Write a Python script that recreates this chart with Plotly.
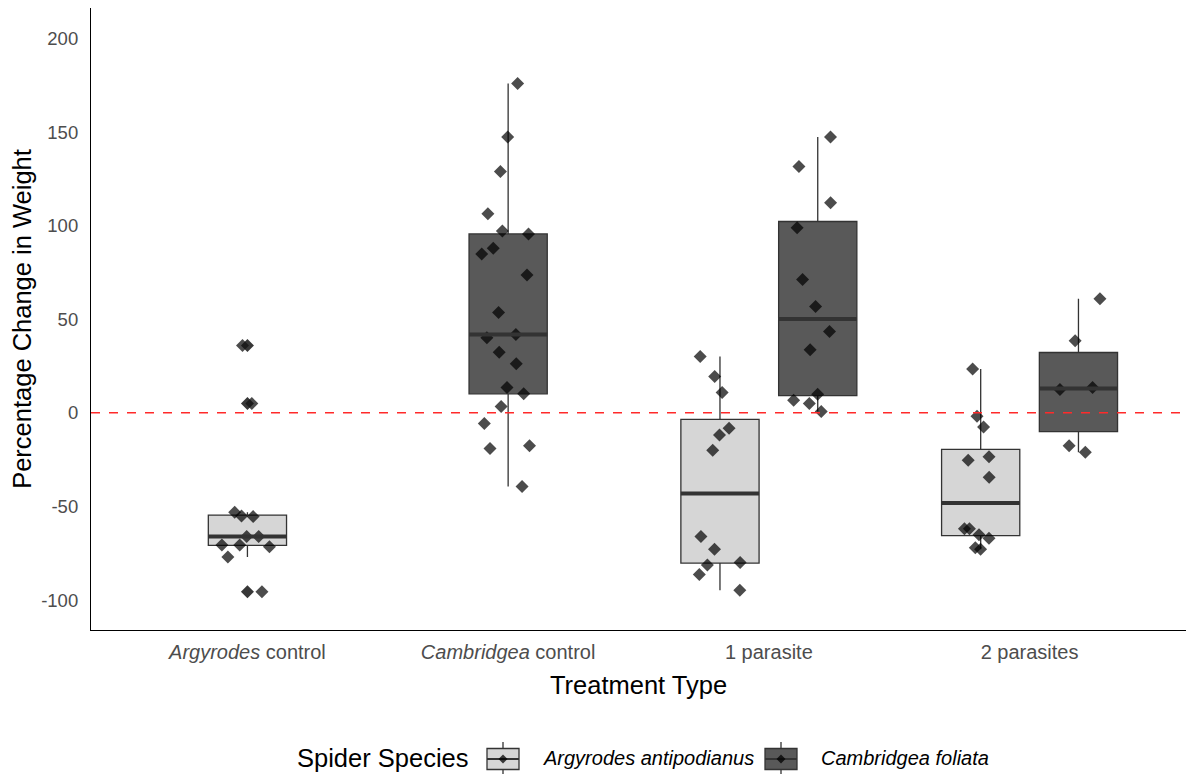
import numpy as np
import plotly.graph_objects as go

# Treatment categories (x axis) and their tick labels
treatments = ["Argyrodes control", "Cambridgea control", "1 parasite", "2 parasites"]
tick_labels = ["<i>Argyrodes</i> control", "<i>Cambridgea</i> control", "1 parasite", "2 parasites"]

# Percentage change in weight, per spider species and treatment
argyrodes_control = [36.0, 5.0, -53.1, -55.4, -55.1, -66.1, -66.1, -70.6, -71.5, -70.6, -77.0, -95.5]
argyrodes_1_parasite = [30.1, 19.4, 10.9, -8.2, -11.8, -20.0, -66.1, -72.9, -79.9, -81.3, -86.3, -94.7]
argyrodes_2_parasites = [23.4, -1.8, -7.6, -23.5, -25.3, -34.4, -61.9, -61.9, -65.1, -67.0, -72.0, -72.9]

cambridgea_control = [175.9, 147.4, 129.0, 106.4, 95.6, 97.2, 84.9, 87.9, 73.6, 53.6, 41.9,
                      40.1, 32.4, 26.2, 13.5, 10.2, 3.4, -5.7, -19.1, -17.6, -39.4]
cambridgea_1_parasite = [147.4, 131.6, 112.3, 98.9, 71.3, 56.8, 43.5, 33.7, 10.0, 6.8, 5.0, 0.7]
cambridgea_2_parasites = [61.0, 38.5, 12.5, 13.5, -17.5, -21.0]

species_names = ["Argyrodes antipodianus", "Cambridgea foliata"]
species_data = {
    "Argyrodes antipodianus": {
        "Argyrodes control": argyrodes_control,
        "1 parasite": argyrodes_1_parasite,
        "2 parasites": argyrodes_2_parasites,
    },
    "Cambridgea foliata": {
        "Cambridgea control": cambridgea_control,
        "1 parasite": cambridgea_1_parasite,
        "2 parasites": cambridgea_2_parasites,
    },
}

# Styling
FILLS = {"Argyrodes antipodianus": "#D6D6D6", "Cambridgea foliata": "#595959"}
LINE = "#333333"
BOX_W = 0.30
DODGE = 0.1875
FONT = "Liberation Sans, Arial, sans-serif"

W, H = 1186, 776
M_L, M_R, M_T, M_B = 91, 0, 8, 146


def position(species, treatment):
    """Numeric x position of a box: category index, dodged when two species share it."""
    idx = treatments.index(treatment) + 1
    present = [s for s in species_names if treatment in species_data[s]]
    if len(present) == 1:
        return float(idx)
    return idx + (-DODGE if present.index(species) == 0 else DODGE)


def px(xp, yp):
    """Page pixel -> paper coordinates (used for the legend drawing)."""
    pw, ph = W - M_L - M_R, H - M_T - M_B
    return (xp - M_L) / pw, (H - M_B - yp) / ph


fig = go.Figure()

box_traces, median_traces, outlier_traces, point_traces = [], [], [], []
for sp in species_names:
    xs, q1s, meds, q3s, los, his = [], [], [], [], [], []
    med_x, med_y = [], []
    out_x, out_y = [], []
    pt_x, pt_y = [], []
    for tr in treatments:
        if tr not in species_data[sp]:
            continue
        v = np.asarray(species_data[sp][tr], dtype=float)
        pos = position(sp, tr)
        q1, med, q3 = np.percentile(v, [25, 50, 75])
        iqr = q3 - q1
        inside = v[(v >= q1 - 1.5 * iqr) & (v <= q3 + 1.5 * iqr)]
        outside = v[(v < q1 - 1.5 * iqr) | (v > q3 + 1.5 * iqr)]
        xs.append(pos); q1s.append(q1); meds.append(med); q3s.append(q3)
        los.append(inside.min()); his.append(inside.max())
        med_x += [pos - BOX_W / 2, pos + BOX_W / 2, None]
        med_y += [med, med, None]
        out_x += [pos] * len(outside)
        out_y += list(outside)
        pt_x += [pos] * len(v)
        pt_y += list(v)

    box_traces.append(go.Box(
        x=xs, q1=q1s, median=meds, q3=q3s, lowerfence=los, upperfence=his,
        width=BOX_W, name=sp, showlegend=False,
        fillcolor=FILLS[sp], line=dict(color=LINE, width=1.3), whiskerwidth=0,
        boxpoints=False, hoverinfo="skip",
    ))
    median_traces.append(go.Scatter(
        x=med_x, y=med_y, mode="lines", line=dict(color=LINE, width=4),
        showlegend=False, hoverinfo="skip",
    ))
    if out_y:
        outlier_traces.append(go.Scatter(
            x=out_x, y=out_y, mode="markers", showlegend=False,
            marker=dict(symbol="diamond", size=10, color="rgba(20,20,20,0.85)", line=dict(width=0)),
            hoverinfo="skip",
        ))
    # Jittered raw observations (box itself hidden)
    point_traces.append(go.Box(
        x=pt_x, y=pt_y, width=BOX_W, boxpoints="all", jitter=0.8, pointpos=0,
        fillcolor="rgba(0,0,0,0)", line=dict(color="rgba(0,0,0,0)", width=0),
        whiskerwidth=0, showlegend=False, name=sp,
        marker=dict(symbol="diamond", size=10, color="rgba(0,0,0,0.7)", line=dict(width=0)),
        hoveron="points",
    ))

for t in box_traces + median_traces + outlier_traces + point_traces:
    fig.add_trace(t)

shapes = []
annotations = []

# Zero-change reference line
shapes.append(dict(type="line", xref="paper", yref="y", x0=0, x1=1, y0=0, y1=0,
                   line=dict(color="#FF2A2A", width=1.5, dash="dash"), layer="above"))

# Legend: title plus one boxplot key per species
tx, ty = px(295, 758)
annotations.append(dict(x=tx, y=ty, xref="paper", yref="paper", text="Spider Species",
                        showarrow=False, xanchor="left", yanchor="middle",
                        font=dict(size=25.5, color="black", family=FONT)))
key_left = {"Argyrodes antipodianus": 487, "Cambridgea foliata": 765}
for sp in species_names:
    kl = key_left[sp]
    kr = kl + 32
    kc = (kl + kr) / 2
    x0, y0 = px(kl, 769.5)
    x1, y1 = px(kr, 748.5)
    shapes.append(dict(type="rect", xref="paper", yref="paper", x0=x0, y0=y0, x1=x1, y1=y1,
                       fillcolor=FILLS[sp], line=dict(color=LINE, width=1.3)))
    cx, top = px(kc, 742)
    _, btop = px(kc, 748.5)
    _, bbot = px(kc, 769.5)
    _, bot = px(kc, 774)
    shapes.append(dict(type="line", xref="paper", yref="paper", x0=cx, x1=cx, y0=btop, y1=top,
                       line=dict(color=LINE, width=1.3)))
    shapes.append(dict(type="line", xref="paper", yref="paper", x0=cx, x1=cx, y0=bbot, y1=bot,
                       line=dict(color=LINE, width=1.3)))
    mx0, my = px(kl, 759)
    mx1, _ = px(kr, 759)
    shapes.append(dict(type="line", xref="paper", yref="paper", x0=mx0, x1=mx1, y0=my, y1=my,
                       line=dict(color=LINE, width=2)))
    # diamond glyph
    d = 4.5
    pts = [px(kc, 759 - d), px(kc + d, 759), px(kc, 759 + d), px(kc - d, 759)]
    path = "M " + " L ".join(f"{a},{b}" for a, b in pts) + " Z"
    shapes.append(dict(type="path", xref="paper", yref="paper", path=path,
                       fillcolor="rgba(0,0,0,0.75)", line=dict(width=0)))
    lx, ly = px(kr + 22, 758)
    annotations.append(dict(x=lx, y=ly, xref="paper", yref="paper", text=f"<i>{sp}</i>",
                            showarrow=False, xanchor="left", yanchor="middle",
                            font=dict(size=20, color="black", family=FONT)))

fig.update_layout(
    width=W, height=H,
    margin=dict(l=M_L, r=M_R, t=M_T, b=M_B),
    paper_bgcolor="white", plot_bgcolor="white",
    boxmode="overlay", showlegend=False,
    font=dict(family=FONT, color="black"),
    shapes=shapes, annotations=annotations,
    xaxis=dict(
        range=[0.4, 4.6], tickmode="array", tickvals=[1, 2, 3, 4], ticktext=tick_labels,
        showgrid=False, zeroline=False, showline=True, linecolor="black", linewidth=1.2,
        ticks="outside", ticklen=4, tickcolor="rgba(0,0,0,0)",
        tickfont=dict(size=20, color="#4D4D4D", family=FONT),
        title=dict(text="Treatment Type", font=dict(size=25.5, color="black", family=FONT), standoff=14),
    ),
    yaxis=dict(
        range=[-116, 216.3], tickmode="array", tickvals=[-100, -50, 0, 50, 100, 150, 200],
        ticktext=["-100", "-50", "0", "50", "100", "150", "200"],
        showgrid=False, zeroline=False, showline=True, linecolor="black", linewidth=1.2,
        ticks="outside", ticklen=8, tickcolor="rgba(0,0,0,0)",
        tickfont=dict(size=18.5, color="#4D4D4D", family=FONT),
        title=dict(text="Percentage Change in Weight", font=dict(size=25.5, color="black", family=FONT), standoff=2),
    ),
)

fig.write_html("out.html")
